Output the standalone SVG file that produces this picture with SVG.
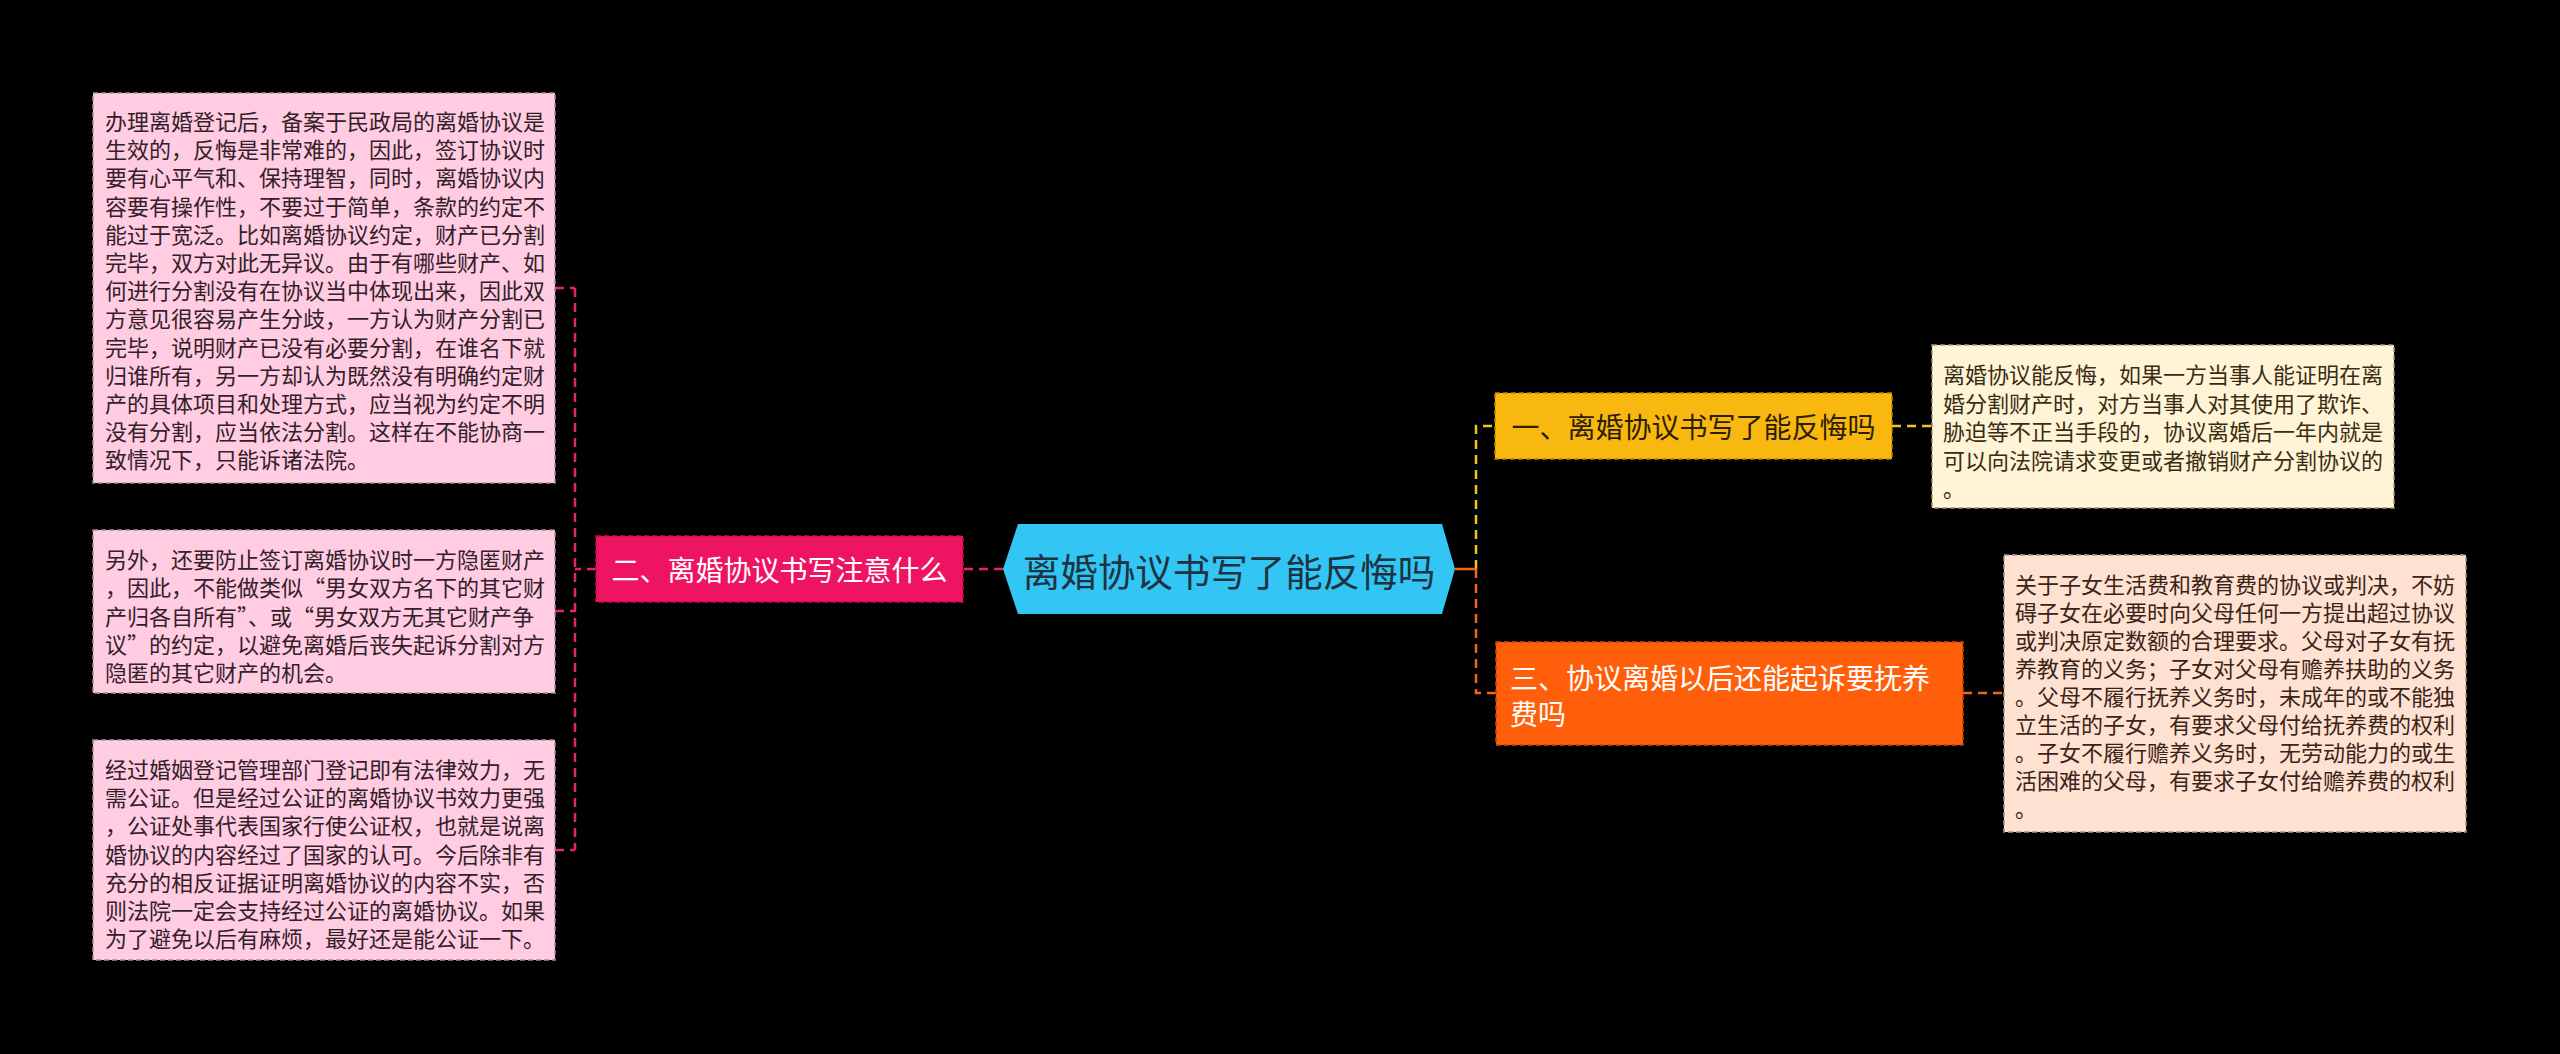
<svg xmlns="http://www.w3.org/2000/svg" width="2560" height="1054" viewBox="0 0 2560 1054">
<style>
.t{font-family:"Noto Sans CJK SC","Noto Sans",sans-serif}
.small{font-size:22px}
.big{font-size:28px}
.leaf{stroke-width:1.5;stroke-dasharray:5 3}
.cn{fill:none;stroke-width:2.5;stroke-dasharray:9 6}
</style>
<rect width="2560" height="1054" fill="#000"/>
<g id="connectors">
<path class="cn" d="M1003,569 H963" stroke="#e5246b" stroke-dasharray="none"/>
<path class="cn" d="M596,569 H575 M575,288 V850 M555,288 H575 M555,611 H575 M555,850 H575" stroke="#e5246b"/>
<path class="cn" d="M1476,569 V426 H1495 M1892,426 H1932" stroke="#f5c11a"/>
<path class="cn" d="M1476,569 V693 H1496 M1963,693 H2004" stroke="#f0661c"/>
<path d="M1455,569 H1476" stroke="#f0661c" stroke-width="2.5" fill="none"/>
</g>
<g id="center">
<polygon points="1003,569 1018,524 1442,524 1455,569 1442,614 1018,614" fill="#33c5f4"/>
<text class="t" x="1229" y="569" font-size="37.5" fill="#1c3340" text-anchor="middle" dominant-baseline="central">离婚协议书写了能反悔吗</text>
</g>
<g id="node2">
<rect x="596" y="536" width="367" height="66" fill="#ef1462" stroke="#c40d4c" class="leaf"/>
<text class="t big" x="779.5" y="569" fill="#fff" text-anchor="middle" dominant-baseline="central">二、离婚协议书写注意什么</text>
</g>
<g id="leaf2a">
<rect x="93" y="93" width="462" height="390" fill="#ffcce1" stroke="#a88c98" class="leaf"/>
<text class="t small" fill="#33202a" dominant-baseline="central">
<tspan x="105" y="120">办理离婚登记后，备案于民政局的离婚协议是</tspan>
<tspan x="105" y="148.2">生效的，反悔是非常难的，因此，签订协议时</tspan>
<tspan x="105" y="176.4">要有心平气和、保持理智，同时，离婚协议内</tspan>
<tspan x="105" y="204.6">容要有操作性，不要过于简单，条款的约定不</tspan>
<tspan x="105" y="232.8">能过于宽泛。比如离婚协议约定，财产已分割</tspan>
<tspan x="105" y="261">完毕，双方对此无异议。由于有哪些财产、如</tspan>
<tspan x="105" y="289.2">何进行分割没有在协议当中体现出来，因此双</tspan>
<tspan x="105" y="317.4">方意见很容易产生分歧，一方认为财产分割已</tspan>
<tspan x="105" y="345.6">完毕，说明财产已没有必要分割，在谁名下就</tspan>
<tspan x="105" y="373.8">归谁所有，另一方却认为既然没有明确约定财</tspan>
<tspan x="105" y="402">产的具体项目和处理方式，应当视为约定不明</tspan>
<tspan x="105" y="430.2">没有分割，应当依法分割。这样在不能协商一</tspan>
<tspan x="105" y="458.4">致情况下，只能诉诸法院。</tspan>
</text>
</g>
<g id="leaf2b">
<rect x="93" y="530" width="462" height="163" fill="#ffcce1" stroke="#a88c98" class="leaf"/>
<text class="t small" fill="#33202a" dominant-baseline="central">
<tspan x="105" y="558">另外，还要防止签订离婚协议时一方隐匿财产</tspan>
<tspan x="105" y="586.3">，因此，不能做类似“男女双方名下的其它财</tspan>
<tspan x="105" y="614.6">产归各自所有”、或“男女双方无其它财产争</tspan>
<tspan x="105" y="642.9">议”的约定，以避免离婚后丧失起诉分割对方</tspan>
<tspan x="105" y="671.2">隐匿的其它财产的机会。</tspan>
</text>
</g>
<g id="leaf2c">
<rect x="93" y="740" width="462" height="220" fill="#ffcce1" stroke="#a88c98" class="leaf"/>
<text class="t small" fill="#33202a" dominant-baseline="central">
<tspan x="105" y="768">经过婚姻登记管理部门登记即有法律效力，无</tspan>
<tspan x="105" y="796.2">需公证。但是经过公证的离婚协议书效力更强</tspan>
<tspan x="105" y="824.4">，公证处事代表国家行使公证权，也就是说离</tspan>
<tspan x="105" y="852.6">婚协议的内容经过了国家的认可。今后除非有</tspan>
<tspan x="105" y="880.8">充分的相反证据证明离婚协议的内容不实，否</tspan>
<tspan x="105" y="909">则法院一定会支持经过公证的离婚协议。如果</tspan>
<tspan x="105" y="937.2">为了避免以后有麻烦，最好还是能公证一下。</tspan>
</text>
</g>
<g id="node1">
<rect x="1495" y="393" width="397" height="66" fill="#f9b80f" stroke="#b98500" class="leaf"/>
<text class="t big" x="1693.5" y="426" fill="#2b2100" text-anchor="middle" dominant-baseline="central">一、离婚协议书写了能反悔吗</text>
</g>
<g id="leaf1">
<rect x="1932" y="345" width="462" height="163" fill="#fff4d6" stroke="#a8997a" class="leaf"/>
<text class="t small" fill="#3a2c14" dominant-baseline="central">
<tspan x="1943" y="373">离婚协议能反悔，如果一方当事人能证明在离</tspan>
<tspan x="1943" y="401.5">婚分割财产时，对方当事人对其使用了欺诈、</tspan>
<tspan x="1943" y="430">胁迫等不正当手段的，协议离婚后一年内就是</tspan>
<tspan x="1943" y="458.5">可以向法院请求变更或者撤销财产分割协议的</tspan>
<tspan x="1943" y="487">。</tspan>
</text>
</g>
<g id="node3">
<rect x="1496" y="642" width="467" height="103" fill="#ff5f0a" stroke="#c94500" class="leaf"/>
<text class="t big" fill="#fff" dominant-baseline="central">
<tspan x="1510" y="677">三、协议离婚以后还能起诉要抚养</tspan>
<tspan x="1510" y="713">费吗</tspan>
</text>
</g>
<g id="leaf3">
<rect x="2004" y="555" width="462" height="277" fill="#ffe1d2" stroke="#a8958a" class="leaf"/>
<text class="t small" fill="#3a2418" dominant-baseline="central">
<tspan x="2015" y="583">关于子女生活费和教育费的协议或判决，不妨</tspan>
<tspan x="2015" y="611">碍子女在必要时向父母任何一方提出超过协议</tspan>
<tspan x="2015" y="639">或判决原定数额的合理要求。父母对子女有抚</tspan>
<tspan x="2015" y="667">养教育的义务；子女对父母有赡养扶助的义务</tspan>
<tspan x="2015" y="695">。父母不履行抚养义务时，未成年的或不能独</tspan>
<tspan x="2015" y="723">立生活的子女，有要求父母付给抚养费的权利</tspan>
<tspan x="2015" y="751">。子女不履行赡养义务时，无劳动能力的或生</tspan>
<tspan x="2015" y="779">活困难的父母，有要求子女付给赡养费的权利</tspan>
<tspan x="2015" y="807">。</tspan>
</text>
</g>
</svg>
